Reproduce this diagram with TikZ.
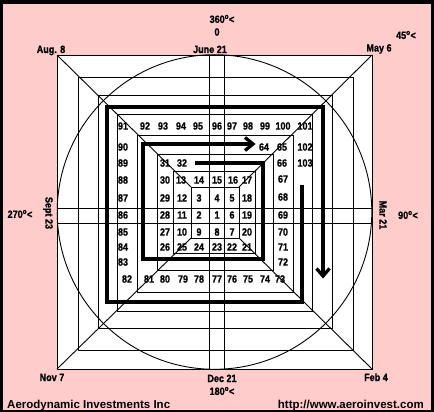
\documentclass[tikz,border=0pt]{standalone}
\usepackage{fontspec}
\setmainfont{Liberation Sans}
\newfontfamily\numfont{Liberation Sans}[FakeStretch=0.86,FakeBold=1]
\definecolor{bgpink}{RGB}{255,204,204}
\begin{document}
\begin{tikzpicture}[x=1pt,y=-1pt,
  grid/.style={line width=0.9pt,black},
  spiral/.style={line width=3.8pt,black},
  barb/.style={line width=3.3pt,black,line join=miter},
  num/.style={inner sep=0pt,font=\numfont\bfseries\fontsize{10.5}{12}\selectfont},
  foot/.style={inner sep=0pt,font=\bfseries\fontsize{11.5}{13}\selectfont}]
\useasboundingbox (0,0) rectangle (434,412);
\fill[black] (0,0) rectangle (434,412);
\fill[bgpink] (3,4) rectangle (431,410);
\fill[white] (57,55) rectangle (372,369);
% concentric squares
\draw[grid] (57,55) rectangle (372,369);
\draw[grid] (78,77) rectangle (353,350);
\draw[grid] (98,95) rectangle (332,328);
\draw[grid] (117,114) rectangle (312,311);
\draw[grid] (137,135) rectangle (293,292);
\draw[grid] (157,154) rectangle (273,270);
\draw[grid] (173,171) rectangle (255,253);
\draw[grid] (191,187) rectangle (239,238);
% diagonals
\draw[grid] (57,55) -- (191,187);
\draw[grid] (372,55) -- (239,187);
\draw[grid] (57,369) -- (191,238);
\draw[grid] (372,369) -- (239,238);
% central cross
\draw[grid] (209,55) -- (209,369);
\draw[grid] (224,55) -- (224,369);
\draw[grid] (57,208) -- (372,208);
\draw[grid] (57,223) -- (372,223);
% circle
\draw[grid] (214.5,212) circle [radius=157.3pt];
% spiral lines
\draw[spiral] (195,163) -- (263,163) -- (263,259) -- (143,259) -- (143,144) -- (252,144);
\draw[barb] (245,137.5) -- (253,144) -- (245,150.5);
\draw[spiral] (302,185) -- (302,302) -- (107,302) -- (107,107) -- (323,107) -- (323,275);
\draw[barb] (316.5,268.5) -- (323,276) -- (329.5,268.5);
% numbers
\foreach \px/\py/\t in {
 123/126/91,145/126/92,163/126/93,181/126/94,198/126/95,217/126/96,232/126/97,248/126/98,265/126/99,283/126/100,305/126/101,
 123/147/90,264/147/64,282/147/65,305/147/102,
 123/163/89,165/163/31,182/163/32,282/163/66,305/163/103,
 123/180/88,165/180/30,181/180/13,199/180/14,217/180/15,233/180/16,247/180/17,283/179/67,
 123/198/87,165/198/29,182/198/12,199/198/3,217/198/4,232/198/5,247/198/18,283/197/68,
 123/215/86,165/215/28,182/215/11,199/215/2,217/215/1,232/215/6,247/215/19,283/215/69,
 123/232/85,165/232/27,182/232/10,199/232/9,217/232/8,232/232/7,247/232/20,283/232/70,
 123/247/84,165/247/26,182/247/25,199/247/24,217/247/23,232/247/22,247/247/21,283/247/71,
 123/262/83,283/262/72,
 127/279/82,149/279/81,165/279/80,183/279/79,199/279/78,217/279/77,232/279/76,248/279/75,265/279/74,280/279/73}
 {\node[num] (n\t) at (\px,\py) {\t};}
% labels
\node[num] (deg360) at (222,19) {360\textsuperscript{o}<};
\node[num] (deg0) at (217,32) {0};
\node[num] (deg45) at (406,35) {45\textsuperscript{o}<};
\node[num] (deg270) at (20,214) {270\textsuperscript{o}<};
\node[num] (deg90) at (408,215) {90\textsuperscript{o}<};
\node[num] (deg180) at (222,391) {180\textsuperscript{o}<};
\node[num,anchor=base] (aug) at (51,53) {Aug. 8};
\node[num,anchor=base] (june) at (210,53) {June 21};
\node[num,anchor=base] (may) at (379,51.5) {May 6};
\node[num,anchor=base] (nov) at (52,381) {Nov 7};
\node[num,anchor=base] (dec) at (222,382) {Dec 21};
\node[num,anchor=base] (feb) at (376,381) {Feb 4};
\node[num,rotate=-90] (sept) at (48,213) {Sept 23};
\node[num,rotate=-90] (mar) at (383,215) {Mar 21};
\node[foot,anchor=base west] (firm) at (7,408) {Aerodynamic Investments Inc};
\node[foot,anchor=base east] (url) at (424,408) {http://www.aeroinvest.com};
\end{tikzpicture}
\end{document}
